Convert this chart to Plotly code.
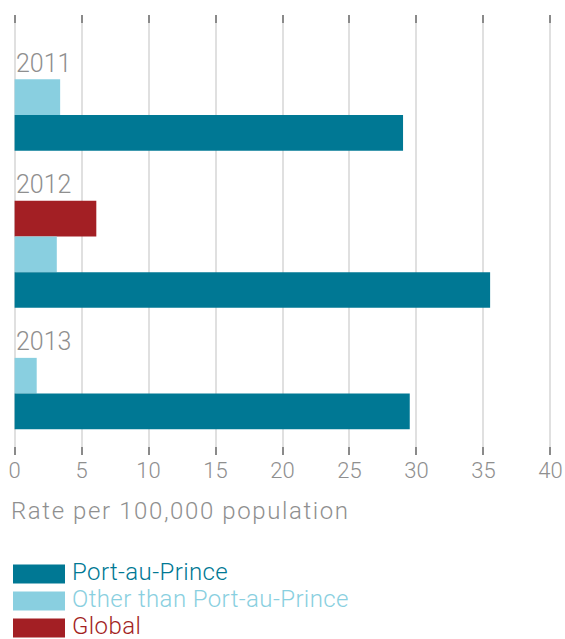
import plotly.graph_objects as go

# ---- data ----
years = ["2011", "2012", "2013"]
series_names = ["Global", "Other than Port-au-Prince", "Port-au-Prince"]  # top-to-bottom within each year
global_vals = [None, 6.1, None]
other_vals = [3.4, 3.15, 1.65]
pap_vals = [29.0, 35.5, 29.5]
series_colors = ["#A31F24", "#89CFE0", "#007894"]
x_ticks = [0, 5, 10, 15, 20, 25, 30, 35, 40]
x_title = "Rate per 100,000 population"
legend_order = ["Port-au-Prince", "Other than Port-au-Prince", "Global"]

# ---- layout constants ----
W, H = 565, 639
ML, MR, MT, MB = 13, 13, 15, 184
X_PAD = 0.12       # keeps edge ticks/grid lines from being clipped
GAP = 1.4          # gap between year groups, in bar units
TOP_PAD = 1.8
BOTTOM_PAD = 0.72
FONT = "Roboto"
GREY = "#8f8f8f"

series_vals = [global_vals, other_vals, pap_vals]

# compute stacked row positions (each bar occupies one unit)
pos = {s: ([], []) for s in range(len(series_names))}
label_y = []
cursor = 0.0
for i, yr in enumerate(years):
    top = cursor
    label_y.append(top - 0.45)
    for s in range(len(series_names)):
        v = series_vals[s][i]
        if v is not None:
            pos[s][0].append(v)
            pos[s][1].append(cursor + 0.5)
            cursor += 1
    cursor += GAP
end = cursor - GAP

fig = go.Figure()
for s, name in enumerate(series_names):
    xs, ys = pos[s]
    fig.add_trace(go.Bar(
        x=xs, y=ys, orientation="h", width=1.0, name=name,
        marker=dict(color=series_colors[s], line=dict(width=0)),
        showlegend=False, hoverinfo="x+name",
    ))

annotations = []
for yr, ly in zip(years, label_y):
    annotations.append(dict(
        x=0, y=ly, xref="x", yref="y", text=yr, showarrow=False,
        xanchor="left", yanchor="middle", xshift=-1,
        font=dict(family=FONT, size=25, color=GREY, weight=300),
    ))

plot_w = W - ML - MR
plot_h = H - MT - MB


def px_x(px):
    return (px - ML) / plot_w


def px_y(py):
    return (H - MB - py) / plot_h


annotations.append(dict(
    x=px_x(9), y=px_y(511), xref="paper", yref="paper",
    text='<span style="letter-spacing:1.6px">' + x_title + '</span>',
    showarrow=False, xanchor="left", yanchor="middle",
    font=dict(family=FONT, size=24, color=GREY, weight=300),
))

shapes = []
row_centers = [574, 601, 628]
for name, cy in zip(legend_order, row_centers):
    col = series_colors[series_names.index(name)]
    shapes.append(dict(
        type="rect", xref="paper", yref="paper",
        x0=px_x(13), x1=px_x(65), y0=px_y(cy - 9.5), y1=px_y(cy + 9.5),
        fillcolor=col, line=dict(width=0),
    ))
    annotations.append(dict(
        x=px_x(70), y=px_y(cy - 2), xref="paper", yref="paper",
        text='<span style="letter-spacing:0.4px">' + name + '</span>',
        showarrow=False, xanchor="left", yanchor="middle",
        font=dict(family=FONT, size=24, color=col, weight=300),
    ))

fig.update_layout(
    width=W, height=H,
    margin=dict(l=ML, r=MR, t=MT, b=MB, autoexpand=False),
    paper_bgcolor="white", plot_bgcolor="white",
    barmode="overlay",
    annotations=annotations, shapes=shapes,
    xaxis=dict(
        range=[-X_PAD, 40 + X_PAD], tickvals=x_ticks, ticktext=[str(t) for t in x_ticks],
        showgrid=True, gridcolor="#e0e0e0", gridwidth=2, zeroline=False,
        ticks="inside", ticklen=8, tickwidth=2, tickcolor="#8a8a8a",
        mirror="ticks", showline=False, automargin=False,
        tickfont=dict(family=FONT, size=22, color=GREY, weight=300),
        fixedrange=True,
    ),
    yaxis=dict(
        range=[end + BOTTOM_PAD, -TOP_PAD], showgrid=False, zeroline=False,
        showticklabels=False, ticks="", showline=False, fixedrange=True,
        automargin=False,
    ),
)

fig.write_html(
    "out.html",
    config={"displayModeBar": False},
    post_script="document.body.style.margin='0';document.body.style.overflow='hidden';",
)
